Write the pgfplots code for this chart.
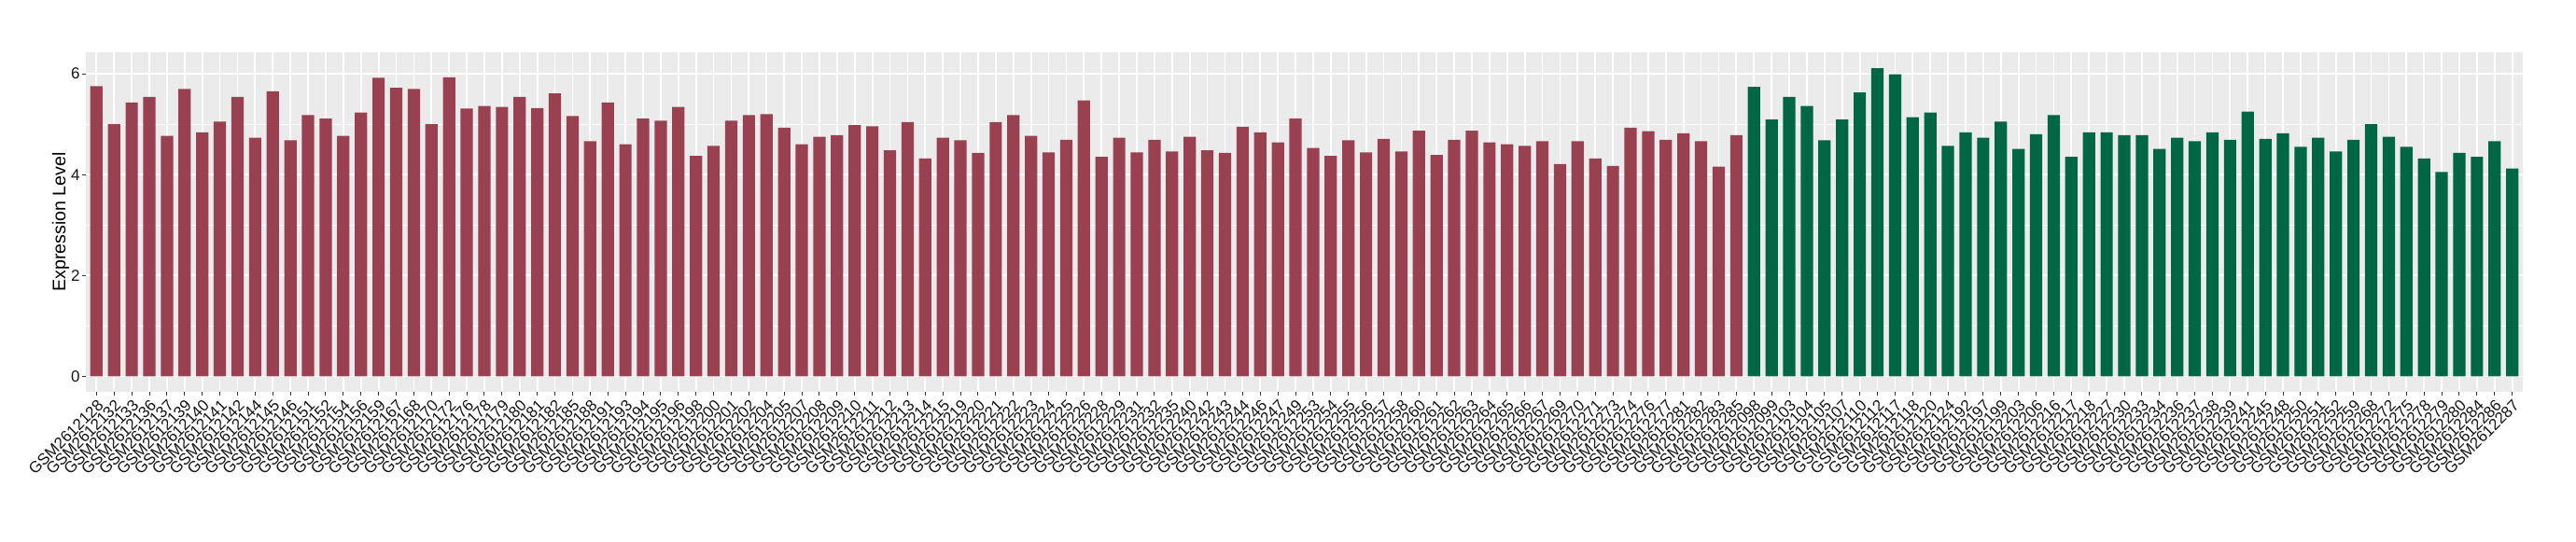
\documentclass[border=0pt]{standalone}
\usepackage{fontspec}
\setmainfont{Liberation Sans}
\usepackage{pgfplots}
\pgfplotsset{compat=1.18}
\definecolor{redbar}{RGB}{154,65,81}
\definecolor{greenbar}{RGB}{0,103,69}
\definecolor{panel}{RGB}{235,235,235}
\definecolor{tickgray}{RGB}{51,51,51}
\definecolor{labelgray}{RGB}{20,20,20}
\begin{document}
\begin{tikzpicture}
\begin{axis}[
 at={(46pt,80pt)}, anchor=south west,
 scale only axis, width=1305.5pt, height=182pt,
 xmin=-0.6, xmax=137.6, ymin=-0.306, ymax=6.426,
 axis background/.style={fill=panel},
 axis line style={draw=none},
 xtick={0,...,137},
 xticklabels={GSM2612128,GSM2612132,GSM2612133,GSM2612136,GSM2612137,GSM2612139,GSM2612140,GSM2612141,GSM2612142,GSM2612144,GSM2612145,GSM2612146,GSM2612151,GSM2612152,GSM2612154,GSM2612156,GSM2612159,GSM2612167,GSM2612168,GSM2612170,GSM2612172,GSM2612176,GSM2612178,GSM2612179,GSM2612180,GSM2612181,GSM2612182,GSM2612185,GSM2612188,GSM2612191,GSM2612193,GSM2612194,GSM2612195,GSM2612196,GSM2612198,GSM2612200,GSM2612201,GSM2612202,GSM2612204,GSM2612205,GSM2612207,GSM2612208,GSM2612209,GSM2612210,GSM2612211,GSM2612212,GSM2612213,GSM2612214,GSM2612215,GSM2612219,GSM2612220,GSM2612221,GSM2612222,GSM2612223,GSM2612224,GSM2612225,GSM2612226,GSM2612228,GSM2612229,GSM2612231,GSM2612232,GSM2612235,GSM2612240,GSM2612242,GSM2612243,GSM2612244,GSM2612246,GSM2612247,GSM2612249,GSM2612253,GSM2612254,GSM2612255,GSM2612256,GSM2612257,GSM2612258,GSM2612260,GSM2612261,GSM2612262,GSM2612263,GSM2612264,GSM2612265,GSM2612266,GSM2612267,GSM2612269,GSM2612270,GSM2612271,GSM2612273,GSM2612274,GSM2612276,GSM2612277,GSM2612281,GSM2612282,GSM2612283,GSM2612285,GSM2612098,GSM2612099,GSM2612103,GSM2612104,GSM2612105,GSM2612107,GSM2612110,GSM2612112,GSM2612117,GSM2612118,GSM2612120,GSM2612124,GSM2612192,GSM2612197,GSM2612199,GSM2612203,GSM2612206,GSM2612216,GSM2612217,GSM2612218,GSM2612227,GSM2612230,GSM2612233,GSM2612234,GSM2612236,GSM2612237,GSM2612238,GSM2612239,GSM2612241,GSM2612245,GSM2612248,GSM2612250,GSM2612251,GSM2612252,GSM2612259,GSM2612268,GSM2612272,GSM2612275,GSM2612278,GSM2612279,GSM2612280,GSM2612284,GSM2612286,GSM2612287},
 ytick={0,2,4,6}, minor ytick={1,3,5},
 xmajorgrids, ymajorgrids, yminorgrids,
 major grid style={white, line width=0.9pt},
 minor grid style={white, line width=0.45pt},
 tick align=outside, xtick pos=bottom, ytick pos=left,
 major tick length=2pt, minor tick length=0pt,
 tick style={tickgray, line width=0.5pt},
 ticklabel style={font=\fontsize{8.5}{9}\selectfont, text=labelgray},
 xticklabel style={rotate=45, anchor=north east, inner sep=1pt},
 yticklabel style={inner sep=1pt},
 /pgf/number format/assume math mode=true,
 ylabel={Expression Level},
 every axis y label/.style={at={(axis description cs:-0.0103,0.5)}, rotate=90, anchor=center, font=\fontsize{9.8}{11}\selectfont},
 ybar, bar width=0.7,
]
\addplot[fill=redbar, draw=none, bar shift=0pt] coordinates {
(0,5.755) (1,5.00) (2,5.43) (3,5.54) (4,4.77) (5,5.70) (6,4.84) (7,5.05) (8,5.54) (9,4.73)
(10,5.65) (11,4.68) (12,5.18) (13,5.11) (14,4.77) (15,5.23) (16,5.92) (17,5.72) (18,5.70) (19,5.00)
(20,5.93) (21,5.31) (22,5.36) (23,5.34) (24,5.54) (25,5.32) (26,5.61) (27,5.16) (28,4.66) (29,5.43)
(30,4.60) (31,5.11) (32,5.07) (33,5.34) (34,4.37) (35,4.57) (36,5.07) (37,5.18) (38,5.20) (39,4.93)
(40,4.60) (41,4.75) (42,4.78) (43,4.98) (44,4.96) (45,4.48) (46,5.04) (47,4.32) (48,4.73) (49,4.68)
(50,4.43) (51,5.04) (52,5.18) (53,4.77) (54,4.44) (55,4.69) (56,5.47) (57,4.35) (58,4.73) (59,4.44)
(60,4.69) (61,4.46) (62,4.75) (63,4.48) (64,4.43) (65,4.95) (66,4.84) (67,4.64) (68,5.11) (69,4.53)
(70,4.37) (71,4.68) (72,4.44) (73,4.71) (74,4.46) (75,4.87) (76,4.39) (77,4.69) (78,4.87) (79,4.64)
(80,4.60) (81,4.57) (82,4.66) (83,4.21) (84,4.66) (85,4.32) (86,4.17) (87,4.93) (88,4.86) (89,4.69)
(90,4.82) (91,4.66) (92,4.16) (93,4.78)
};
\addplot[fill=greenbar, draw=none, bar shift=0pt] coordinates {
(94,5.74) (95,5.09) (96,5.54) (97,5.36) (98,4.68) (99,5.09)
(100,5.63) (101,6.11) (102,5.99) (103,5.14) (104,5.23) (105,4.57) (106,4.84) (107,4.73) (108,5.05) (109,4.51)
(110,4.80) (111,5.18) (112,4.35) (113,4.84) (114,4.84) (115,4.78) (116,4.78) (117,4.51) (118,4.73) (119,4.66)
(120,4.84) (121,4.69) (122,5.25) (123,4.71) (124,4.82) (125,4.55) (126,4.73) (127,4.46) (128,4.69) (129,5.00)
(130,4.75) (131,4.55) (132,4.32) (133,4.05) (134,4.43) (135,4.35) (136,4.66) (137,4.12)
};
\end{axis}
\pgfresetboundingbox
\path (0,0) rectangle (1380pt,290pt);
\end{tikzpicture}
\end{document}
